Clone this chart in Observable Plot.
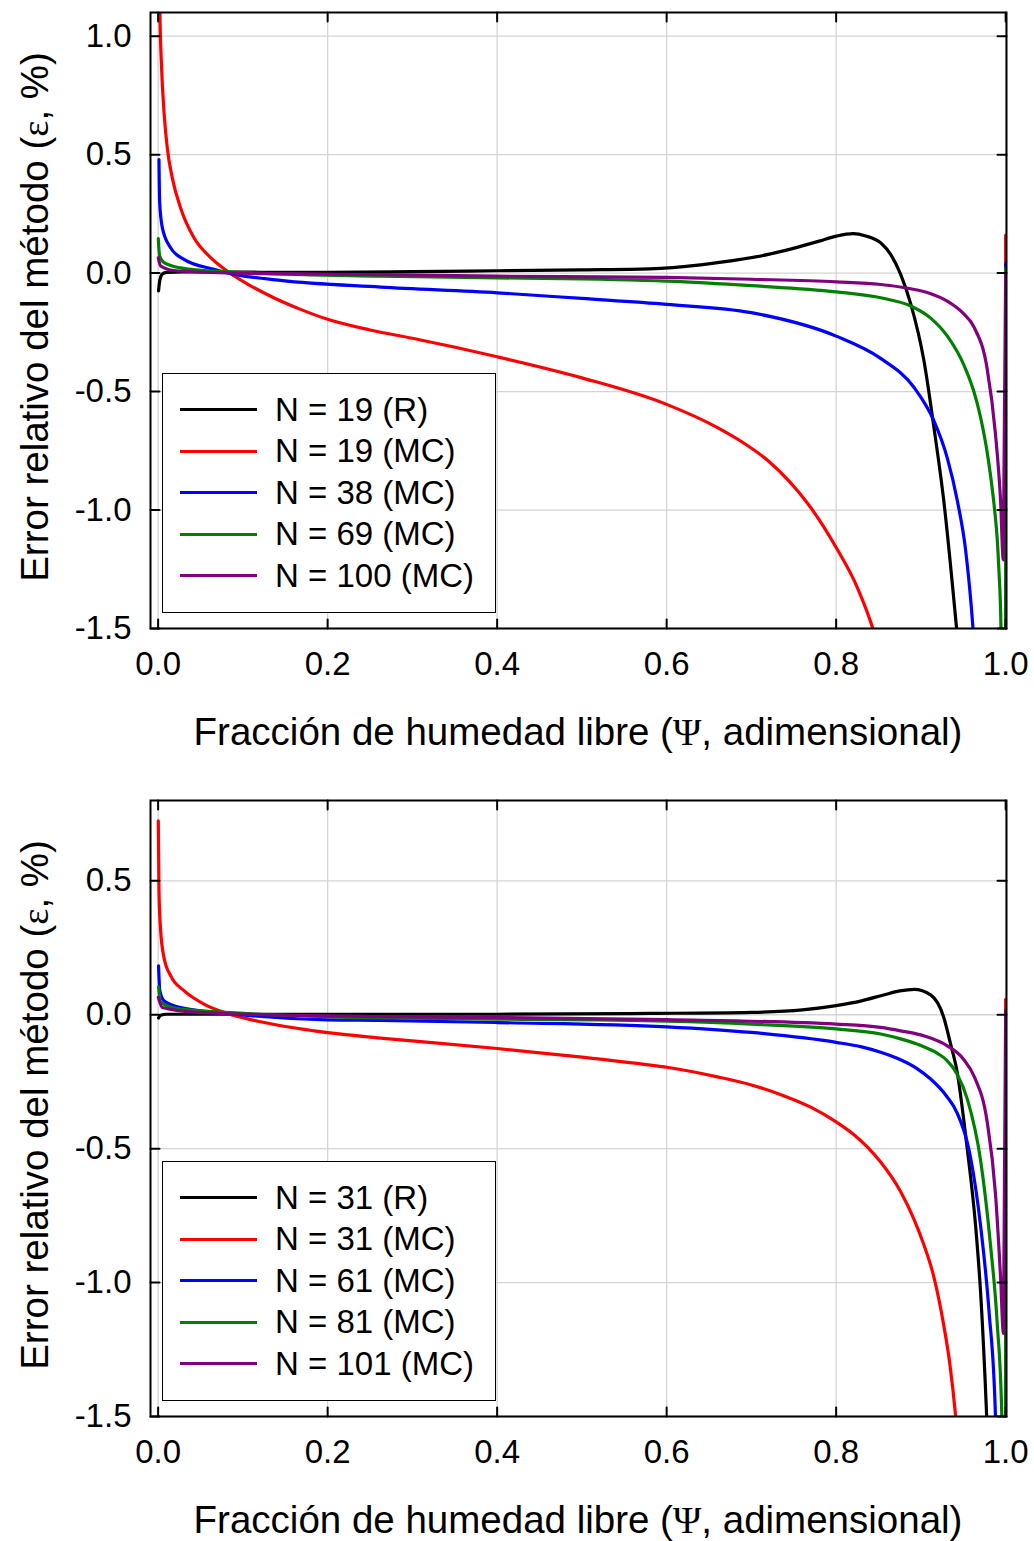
<!DOCTYPE html>
<html><head><meta charset="utf-8">
<script src="https://cdn.jsdelivr.net/npm/d3@7"></script>
<script src="https://cdn.jsdelivr.net/npm/@observablehq/plot@0.6"></script>
<style>
body{margin:0;background:#fff;}
#wrap{position:relative;width:1034px;height:1541px;font-family:"Liberation Sans",Arial,sans-serif;color:#000;overflow:hidden;}
.panel{position:absolute;left:0;}
.xtitle{position:absolute;font-size:38.5px;white-space:nowrap;transform:translate(-50%,-50%);line-height:1;}
.ytitle{position:absolute;font-size:38.5px;white-space:nowrap;transform:translate(-50%,-50%) rotate(-90deg);line-height:1;}
.legend{position:absolute;border:1.5px solid #000;background:#fff;box-sizing:border-box;}
.row{position:absolute;left:0;height:40px;display:flex;align-items:center;font-size:33px;white-space:nowrap;}
.sw{width:77px;height:3px;margin-left:17px;margin-right:18px;}
.greek{font-family:"Liberation Serif","DejaVu Serif",serif;}
</style></head><body><div id="wrap"></div>
<script>
// ---------- axis ticks ----------
const xTicks = [0, 0.2, 0.4, 0.6, 0.8, 1.0];
const yTicksTop = [-1.5, -1.0, -0.5, 0.0, 0.5, 1.0];
const yTicksBottom = [-1.5, -1.0, -0.5, 0.0, 0.5];

// ---------- series labels & colours ----------
const labelsTop = ["N = 19 (R)", "N = 19 (MC)", "N = 38 (MC)", "N = 69 (MC)", "N = 100 (MC)"];
const labelsBottom = ["N = 31 (R)", "N = 31 (MC)", "N = 61 (MC)", "N = 81 (MC)", "N = 101 (MC)"];
const colors = ["#000000", "#ff0000", "#0000ff", "#008000", "#800080"];

// ---------- top panel data [Ψ, ε%] ----------
const top19R = [[0.0005,-0.075],[0.002,-0.03],[0.005,-0.004],[0.01,0.003],[0.03,0.005],[0.1,0.004],[0.2,0.003],[0.3,0.006],[0.4,0.01],[0.5,0.014],[0.58,0.018],[0.64,0.035],[0.66,0.044],[0.72,0.079],[0.78,0.135],[0.80,0.156],[0.82,0.167],[0.835,0.157],[0.8525,0.128],[0.865,0.075],[0.876,-0.004],[0.888,-0.13],[0.9036,-0.37],[0.9154,-0.652],[0.927,-0.961],[0.942,-1.495],[0.95,-1.8]];
const top19MC = [[0.0012,1.5],[0.0021,1.105],[0.0041,0.866],[0.0069,0.683],[0.0108,0.528],[0.0167,0.402],[0.0265,0.275],[0.0423,0.149],[0.062,0.065],[0.0816,0.008],[0.105,-0.045],[0.137,-0.105],[0.168,-0.153],[0.2,-0.195],[0.25,-0.24],[0.3,-0.275],[0.4,-0.353],[0.5,-0.442],[0.6,-0.554],[0.66,-0.652],[0.69,-0.715],[0.719,-0.79],[0.745,-0.88],[0.766,-0.97],[0.8,-1.158],[0.825,-1.327],[0.843,-1.497],[0.87,-1.9],[0.95,-4],[0.9995,-40],[1.0,0.16]];
const top38MC = [[0.001,0.479],[0.0018,0.30],[0.005,0.191],[0.0147,0.107],[0.0305,0.058],[0.066,0.016],[0.0816,0.001],[0.1445,-0.031],[0.2625,-0.059],[0.4,-0.083],[0.5,-0.107],[0.6,-0.132],[0.7,-0.167],[0.8,-0.266],[0.8525,-0.36],[0.892,-0.483],[0.9154,-0.624],[0.931,-0.779],[0.943,-0.961],[0.9528,-1.17],[0.9614,-1.495],[0.97,-2],[0.99,-6],[0.9995,-40],[1.0,0.04]];
const top69MC = [[0.0002,0.146],[0.0018,0.072],[0.007,0.044],[0.0265,0.022],[0.066,0.008],[0.2625,-0.013],[0.4,-0.02],[0.6,-0.034],[0.7,-0.053],[0.8,-0.079],[0.8525,-0.104],[0.888,-0.139],[0.9115,-0.19],[0.931,-0.265],[0.951,-0.39],[0.9625,-0.5],[0.9705,-0.61],[0.977,-0.73],[0.982,-0.85],[0.987,-1.0],[0.99,-1.12],[0.992,-1.25],[0.9945,-1.5],[0.997,-2.5],[0.9995,-30],[1.0,0.02]];
const top100MC = [[0.0002,0.065],[0.003,0.03],[0.0187,0.011],[0.0816,0.001],[0.2625,-0.006],[0.4,-0.013],[0.6,-0.018],[0.7,-0.026],[0.8,-0.037],[0.8525,-0.048],[0.888,-0.066],[0.91,-0.085],[0.931,-0.118],[0.95,-0.17],[0.963,-0.23],[0.978,-0.40],[0.988,-0.68],[0.994,-0.96],[0.9972,-1.21],[1.0,0.0]];

// ---------- bottom panel data [Ψ, ε%] ----------
const bot31R = [[0.0005,-0.012],[0.003,-0.002],[0.01,0.002],[0.1,0.002],[0.4,0.002],[0.58,0.005],[0.7,0.009],[0.76,0.018],[0.8,0.034],[0.83,0.052],[0.856,0.074],[0.875,0.089],[0.892,0.095],[0.9115,0.074],[0.927,-0.01],[0.935,-0.109],[0.9425,-0.209],[0.954,-0.483],[0.9646,-0.79],[0.9705,-1.04],[0.9776,-1.5],[0.985,-2.2]];
const bot31MC = [[0.0002,0.724],[0.001,0.463],[0.003,0.313],[0.0069,0.214],[0.0147,0.146],[0.0305,0.09],[0.054,0.04],[0.0816,0.005],[0.125,-0.029],[0.184,-0.06],[0.2,-0.067],[0.2625,-0.087],[0.4,-0.126],[0.5,-0.158],[0.581,-0.188],[0.6,-0.196],[0.66,-0.232],[0.7,-0.262],[0.738,-0.302],[0.77,-0.345],[0.8,-0.4],[0.82,-0.445],[0.837,-0.494],[0.8525,-0.55],[0.876,-0.66],[0.892,-0.765],[0.9036,-0.86],[0.915,-0.975],[0.927,-1.16],[0.934,-1.3],[0.941,-1.5],[0.96,-2.5],[0.9995,-40],[1.0,0.058]];
const bot61MC = [[0.0005,0.183],[0.002,0.09],[0.0069,0.052],[0.0265,0.027],[0.0816,0.005],[0.2,-0.019],[0.2625,-0.021],[0.4,-0.029],[0.6,-0.045],[0.7,-0.066],[0.8,-0.103],[0.83,-0.12],[0.8525,-0.14],[0.876,-0.168],[0.895,-0.2],[0.9115,-0.24],[0.9306,-0.305],[0.9425,-0.365],[0.9587,-0.535],[0.9705,-0.79],[0.9803,-1.104],[0.988,-1.5],[0.993,-3],[0.9995,-40],[1.0,0.015]];
const bot81MC = [[0.0005,0.104],[0.003,0.046],[0.0265,0.021],[0.2625,-0.012],[0.4,-0.016],[0.6,-0.024],[0.7,-0.035],[0.8,-0.053],[0.8525,-0.072],[0.876,-0.09],[0.9,-0.115],[0.92,-0.145],[0.9306,-0.17],[0.9425,-0.22],[0.9548,-0.315],[0.9705,-0.545],[0.982,-0.856],[0.99,-1.15],[0.9955,-1.5],[0.998,-3],[0.9997,-30],[1.0,0.0]];
const bot101MC = [[0.0002,0.065],[0.005,0.027],[0.046,0.009],[0.2625,-0.0075],[0.4,-0.01],[0.6,-0.018],[0.8,-0.035],[0.8525,-0.047],[0.876,-0.06],[0.905,-0.08],[0.9306,-0.115],[0.95,-0.165],[0.9634,-0.234],[0.978,-0.396],[0.988,-0.669],[0.994,-0.98],[0.9974,-1.19],[1.0,0.015]];

const xTitleHTML = 'Fracción de humedad libre (<span class="greek">Ψ</span>, adimensional)';
const yTitleHTML = 'Error relativo del método (<span class="greek">ε</span>, %)';

const tickShape = {draw(context, l) { context.moveTo(0, 0); context.lineTo(0, -l); }};
const fmt = d => d.toFixed(1);

function makePanel(series, yDomain, yTicks, height, mt, mb) {
  const lineMarks = series.map((s, i) => Plot.line(s, {
    x: d => d[0], y: d => d[1], stroke: colors[i], strokeWidth: 3.2,
    curve: "monotone-x", clip: true
  }));
  const tk = {length: 9, anchor: "start", shape: tickShape, stroke: "#000", strokeWidth: 2};
  return Plot.plot({
    width: 1034, height, marginLeft: 150, marginRight: 28, marginTop: mt, marginBottom: mb,
    x: {domain: [-0.009, 1.001]},
    y: {domain: yDomain},
    style: {fontFamily: '"Liberation Sans", Arial, sans-serif', fontSize: "33px", color: "#000", background: "#fff", overflow: "visible"},
    marks: [
      Plot.gridX(xTicks, {stroke: "#d4d4d4", strokeOpacity: 1, strokeWidth: 1.3}),
      Plot.gridY(yTicks, {stroke: "#d4d4d4", strokeOpacity: 1, strokeWidth: 1.3}),
      ...lineMarks,
      Plot.frame({stroke: "#000", strokeWidth: 2}),
      Plot.vector(xTicks, {x: d => d, frameAnchor: "bottom", rotate: 0, ...tk}),
      Plot.vector(xTicks, {x: d => d, frameAnchor: "top", rotate: 180, ...tk}),
      Plot.vector(yTicks, {y: d => d, frameAnchor: "left", rotate: 90, ...tk}),
      Plot.vector(yTicks, {y: d => d, frameAnchor: "right", rotate: -90, ...tk}),
      Plot.axisX(xTicks, {anchor: "bottom", tickSize: 0, tickPadding: 23, tickFormat: fmt, fontSize: 33, label: null}),
      Plot.axisY(yTicks, {anchor: "left", tickSize: 0, tickPadding: 19, tickFormat: fmt, fontSize: 33, label: null})
    ]
  });
}

const wrap = document.getElementById("wrap");

function addPanel(top, series, labels, yDomain, yTicks, height, mt, mb, xTitleY, yTitleY, legendTop) {
  const div = document.createElement("div");
  div.className = "panel";
  div.style.top = top + "px";
  div.appendChild(makePanel(series, yDomain, yTicks, height, mt, mb));
  wrap.appendChild(div);

  const xt = document.createElement("div");
  xt.className = "xtitle"; xt.innerHTML = xTitleHTML;
  xt.style.left = "578px"; xt.style.top = xTitleY + "px";
  wrap.appendChild(xt);

  const yt = document.createElement("div");
  yt.className = "ytitle"; yt.innerHTML = yTitleHTML;
  yt.style.left = "35px"; yt.style.top = yTitleY + "px";
  wrap.appendChild(yt);

  const lg = document.createElement("div");
  lg.className = "legend";
  lg.style.left = "162px"; lg.style.top = legendTop + "px";
  lg.style.width = "334px"; lg.style.height = "240px";
  labels.forEach((lab, i) => {
    const row = document.createElement("div");
    row.className = "row";
    row.style.top = (37 + 41.5 * i - 20 - 1.5) + "px";
    const sw = document.createElement("div");
    sw.className = "sw"; sw.style.background = colors[i];
    const tx = document.createElement("span");
    tx.textContent = lab;
    row.appendChild(sw); row.appendChild(tx);
    lg.appendChild(row);
  });
  wrap.appendChild(lg);
}

addPanel(0, [top19R, top19MC, top38MC, top69MC, top100MC], labelsTop, [-1.5, 1.1], yTicksTop, 790, 12, 162, 732, 317, 373);
addPanel(790, [bot31R, bot31MC, bot61MC, bot81MC, bot101MC], labelsBottom, [-1.5, 0.8], yTicksBottom, 751, 10, 125, 1520, 1105, 1161);
</script></body></html>
